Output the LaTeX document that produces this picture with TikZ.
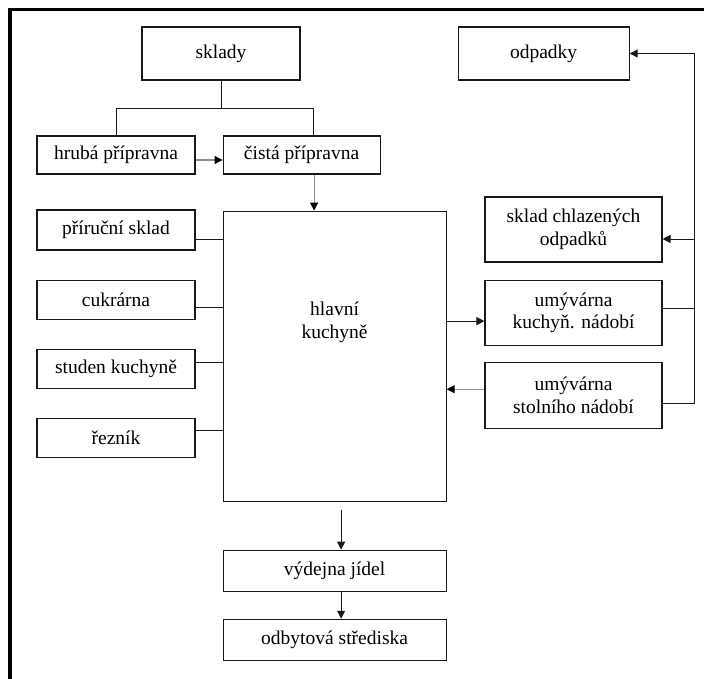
\documentclass[tikz,border=0pt]{standalone}
\usepackage{fontspec}
\setmainfont{Liberation Serif}
\usetikzlibrary{positioning,arrows.meta}

\begin{document}
\begin{tikzpicture}[
  x=1pt, y=1pt,
  node distance=29pt,
  box/.style={rectangle, draw=black!90, line width=1.1pt, inner sep=2pt,
              minimum width=158pt, minimum height=39pt, align=center},
  link/.style={draw=black!90, line width=1pt},
  arr/.style={link, -{Triangle[length=8pt, width=8pt]}},
  garr/.style={draw=black!45, line width=1.1pt, -{Triangle[length=8pt, width=8pt, black]}}, % šedá čára, černá šipka
  every node/.style={font=\fontsize{19.5}{22.5}\selectfont}
]
\useasboundingbox (0,0) rectangle (704,-679);
\draw[line width=3.5pt] (10,-679) -- (10,-9.5) -- (704,-9.5);

% ====== HORNÍ ŘADA ======
\node[box, minimum height=53pt] (sklady) at (221,-53.5) {sklady};
\node[box, minimum width=171pt, minimum height=53pt, right=157pt of sklady] (odpadky) {odpadky};

\node[box, minimum height=38pt] (hruba) at (116,-155) {hrubá přípravna};
\node[box, minimum width=157pt, minimum height=38pt, right=27pt of hruba] (cista) {čistá přípravna};

% ====== LEVÝ SLOUPEC ======
\node[box, minimum height=40pt] (prirucni) at (116,-230) {příruční sklad};
\node[box, below=of prirucni] (cukrarna) {cukrárna};
\node[box, below=of cukrarna] (studena) {studen kuchyně};
\node[box, below=of studena] (reznik) {řezník};

% ====== HLAVNÍ KUCHYNĚ ======
\node[box, minimum width=223pt, minimum height=290pt, below=36pt of cista.south west, anchor=north west] (kuchyne) {};
\node[align=center] (kuchtext) at ([yshift=34pt]kuchyne.center) {hlavní\\kuchyně};

\node[box, minimum width=223pt, minimum height=41pt, below=48pt of kuchyne] (vydejna) {výdejna jídel};
\node[box, minimum width=223pt, minimum height=41pt, below=27pt of vydejna] (odbyt) {odbytová střediska};

% ====== PRAVÝ SLOUPEC ======
\node[box, minimum width=177pt, minimum height=65pt] (chlazene) at (573.5,-229.5) {sklad chlazených\\odpadků};
\node[box, minimum width=177pt, minimum height=65pt, below=17pt of chlazene] (umkuch) {umývárna\\kuchyň. nádobí};
\node[box, minimum width=177pt, minimum height=66pt, below=16pt of umkuch] (umstol) {umývárna\\stolního nádobí};

% sklady -> přípravny
\draw[link] (sklady.south) -- ++(0,-28) coordinate (rozdel);
\draw[link] (rozdel) -| (hruba.north);
\draw[link] (rozdel) -| ([xshift=11.5pt]cista.north);

\draw[garr] ([yshift=-5pt]hruba.east) -- ([yshift=-5pt]cista.west);
\draw[garr] ([xshift=12.5pt]cista.south) -- ([xshift=12.5pt]cista.south |- kuchyne.north);

% levý sloupec -> kuchyně
\draw[link] ([yshift=-9pt]prirucni.east) -- ([yshift=-9pt]prirucni.east -| kuchyne.west);
\draw[link] ([yshift=-7.5pt]cukrarna.east) -- ([yshift=-7.5pt]cukrarna.east -| kuchyne.west);
\draw[link] ([yshift=6.5pt]studena.east) -- ([yshift=6.5pt]studena.east -| kuchyne.west);
\draw[link] ([yshift=7.5pt]reznik.east) -- ([yshift=7.5pt]reznik.east -| kuchyne.west);

% kuchyně <-> umývárny
\draw[arr] ([yshift=-8.5pt]umkuch.west -| kuchyne.east) -- ([yshift=-8.5pt]umkuch.west);
\draw[garr] ([yshift=6pt]umstol.west) -- ([yshift=6pt]umstol.west -| kuchyne.east);

% odpady vpravo
\draw[arr] ([yshift=-8pt]umstol.east) -- ++(32,0) coordinate (sber) |- (odpadky.east);
\draw[link] ([yshift=4.5pt]umkuch.east) -- ([yshift=4.5pt]umkuch.east -| sber);
\draw[arr] ([yshift=-9.5pt]chlazene.east -| sber) -- ([yshift=-9.5pt]chlazene.east);

% výdej
\draw[arr] ([xshift=6.5pt, yshift=-8pt]kuchyne.south) -- ([xshift=6.5pt]vydejna.north);
\draw[arr] ([xshift=6.5pt]vydejna.south) -- ([xshift=6.5pt]odbyt.north);

\end{tikzpicture}
\end{document}
